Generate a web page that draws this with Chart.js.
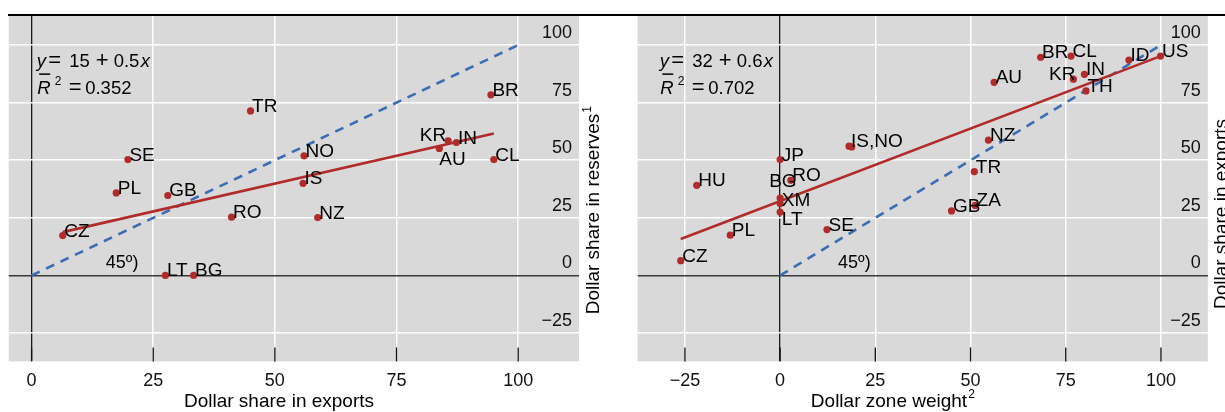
<!DOCTYPE html>
<html><head><meta charset="utf-8">
<script src="https://cdn.jsdelivr.net/npm/chart.js@4.4.1/dist/chart.umd.min.js"></script>
<style>
html,body{margin:0;padding:0;background:#fff;width:1225px;height:412px;overflow:hidden;}
#topline{position:absolute;left:8px;top:14px;width:1217px;height:2px;background:#000;}
.wrap{position:absolute;top:0;height:412px;}
#w1{left:0;width:612px;}
#w2{left:625px;width:600px;}
</style></head><body>
<div id="topline"></div>
<div class="wrap" id="w1"><canvas id="c1"></canvas></div>
<div class="wrap" id="w2"><canvas id="c2"></canvas></div>
<script>
// ---------- DATA ----------
// Left panel: dollar share in exports (x) vs dollar share in reserves (y)
const leftCountries   = ["CZ","PL","SE","GB","LT","BG","RO","TR","NO","IS","NZ","AU","KR","IN","BR","CL"];
const leftExportShare = [6.4,17.4,19.8,28.0,27.5,33.3,41.1,45.0,56.0,55.8,58.8,83.8,85.6,87.3,94.4,95.0];
const leftReserveShare= [17.3,35.8,50.3,34.7,0,0,25.3,71.4,51.9,40.0,25.1,55.1,58.4,57.7,78.4,50.3];
const leftFitX = [6.4, 95.0];
const leftFitY = [18.8, 61.6];
const leftXTicks = [0,25,50,75,100];
const leftEquation = ["15", "0.5", "0.352"];

// Right panel: dollar zone weight (x) vs dollar share in exports (y)
const rightCountries  = ["CZ","PL","HU","LT","XM","BG","JP","RO","SE","IS","NO","GB","ZA","TR","NZ","AU","BR","CL","KR","IN","TH","ID","US"];
const rightZoneWeight = [-26.1,-13.1,-21.9,0,0,0,0,2.8,12.3,18.1,18.8,45.0,51.2,51.0,54.7,56.2,68.4,76.4,77.0,79.9,80.3,91.6,99.9];
const rightExportShare= [6.4,17.5,39.1,27.5,31.2,33.6,50.3,41.3,19.9,56.1,55.8,28.0,30.4,45.1,58.7,83.8,94.7,95.2,85.2,87.3,80.1,93.5,95.2];
const rightFitX = [-26.1, 99.9];
const rightFitY = [15.8, 95.2];
const rightXTicks = [-25,0,25,50,75,100];
const rightEquation = ["32", "0.6", "0.702"];

const yTicks = [-25,0,25,50,75,100];
const diagX = [0,100];
const diagY = [0,100];

// ---------- STYLE ----------
const FONT = "'Liberation Sans', Arial, Helvetica, sans-serif";
const RED = '#b22b2b';
const BLUE = '#3b6db5';
const GRAY = '#d9d9d9';

const fmt = v => (v < 0 ? '\u2212' + Math.abs(v) : String(v));

const leftLabelTweaks  = { KR:{align:'right', dx:-2, dy:0}, AU:{dx:0, dy:16.5} };
const rightLabelTweaks = { KR:{align:'right', dx:2, dy:0.5}, BG:{dx:-11, dy:-11}, LT:{dx:1.7, dy:12.5},
                           XM:{dx:1.7, dy:2.7}, IS:{dx:2, dy:0.7, text:'IS,NO'}, NO:{text:''} };

function makePlugin(cfg){
  return {
    id:'custom',
    beforeDraw(chart){
      const {ctx, chartArea:a} = chart;
      ctx.save(); ctx.fillStyle = GRAY;
      ctx.fillRect(a.left, a.top, a.right-a.left, a.bottom-a.top);
      ctx.restore();
    },
    beforeDatasetsDraw(chart){
      const {ctx, chartArea:a, scales:{x,y}} = chart;
      ctx.save();
      // inner tick marks at bottom
      ctx.strokeStyle = '#111'; ctx.lineWidth = 1.3;
      cfg.xTicks.forEach(v=>{
        const px = x.getPixelForValue(v);
        ctx.beginPath(); ctx.moveTo(px, a.bottom-14); ctx.lineTo(px, a.bottom); ctx.stroke();
      });
      // y tick labels (inside, right)
      ctx.fillStyle = '#111'; ctx.font = '18px ' + FONT;
      ctx.textAlign = 'right'; ctx.textBaseline = 'middle';
      yTicks.forEach(v=>{
        ctx.fillText(fmt(v), a.right-7, y.getPixelForValue(v)-12);
      });
      ctx.restore();
    },
    afterDatasetsDraw(chart){
      const {ctx, chartArea:a, scales:{x,y}} = chart;
      ctx.save();
      // point labels
      ctx.fillStyle = '#000'; ctx.font = '19px ' + FONT; ctx.textBaseline = 'alphabetic';
      cfg.countries.forEach((c,i)=>{
        const t = cfg.tweaks[c] || {};
        const text = t.text !== undefined ? t.text : c;
        if (!text) return;
        const px = x.getPixelForValue(cfg.xs[i]), py = y.getPixelForValue(cfg.ys[i]);
        ctx.textAlign = t.align || 'left';
        ctx.fillText(text, px + (t.dx !== undefined ? t.dx : 1.5), py + (t.dy !== undefined ? t.dy : 1));
      });
      // 45 degree annotation
      ctx.font = '18px ' + FONT; ctx.textAlign = 'center'; ctx.textBaseline = 'middle';
      ctx.fillText('45\u00BA)', x.getPixelForValue(cfg.annot[0]), y.getPixelForValue(cfg.annot[1]));
      // regression equation
      const X0 = x.getPixelForValue(cfg.eqPos[0]);
      const B1 = y.getPixelForValue(cfg.eqPos[1]);
      const B2 = B1 + 27;
      ctx.textAlign = 'left'; ctx.textBaseline = 'alphabetic';
      const it = 'italic 18.5px ' + FONT, rg = '18.5px ' + FONT, op = '22px ' + FONT;
      ctx.font = it; ctx.fillText('y', X0, B1);
      ctx.font = op; ctx.fillText('=', X0+11.5, B1);
      ctx.font = rg; ctx.fillText(cfg.eq[0], X0+32.5, B1);
      ctx.font = op; ctx.fillText('+', X0+59, B1);
      ctx.font = rg; ctx.fillText(cfg.eq[1], X0+77, B1);
      ctx.font = it; ctx.fillText('x', X0+104, B1);
      ctx.fillText('R', X0+0.5, B2);
      ctx.fillRect(X0+2.5, B2-21, 11, 1.5);
      ctx.font = '12px ' + FONT; ctx.fillText('2', X0+18, B2-9);
      ctx.font = op; ctx.fillText('=', X0+32, B2);
      ctx.font = rg; ctx.fillText(cfg.eq[2], X0+48.5, B2);
      ctx.restore();
    },
    afterDraw(chart){
      const {ctx} = chart;
      ctx.save(); ctx.fillStyle = '#000';
      // x title
      ctx.font = '19px ' + FONT; ctx.textBaseline = 'alphabetic';
      const w = ctx.measureText(cfg.xTitle).width;
      let sx = cfg.xTitleCenter - w/2 - (cfg.xSup ? 4 : 0);
      ctx.textAlign = 'left';
      ctx.fillText(cfg.xTitle, sx, 407);
      if (cfg.xSup){ ctx.font = '12px ' + FONT; ctx.fillText(cfg.xSup, sx + w + 1, 398); }
      // y title (rotated)
      ctx.translate(cfg.yTitlePos[0], cfg.yTitlePos[1]);
      ctx.rotate(-Math.PI/2);
      ctx.font = '19px ' + FONT;
      const wy = ctx.measureText(cfg.yTitle).width;
      ctx.fillText(cfg.yTitle, -wy/2, 0);
      if (cfg.ySup){ ctx.font = '12px ' + FONT; ctx.fillText(cfg.ySup, wy/2 + 1, -8); }
      ctx.restore();
    }
  };
}

function makeChart(id, cfg){
  const pts = cfg.xs.map((v,i)=>({x:v, y:cfg.ys[i]}));
  const fit = cfg.fitX.map((v,i)=>({x:v, y:cfg.fitY[i]}));
  const diag = diagX.map((v,i)=>({x:v, y:diagY[i]}));
  return new Chart(document.getElementById(id), {
    type:'scatter',
    data:{ datasets:[
      {label:'Countries', data:pts, backgroundColor:RED, borderWidth:0, pointRadius:3.6, order:0},
      {type:'line', label:'Fit', data:fit, borderColor:RED, borderWidth:2.6, pointRadius:0, fill:false, order:1},
      {type:'line', label:'45 degree', data:diag, borderColor:BLUE, borderWidth:2.6, borderDash:[9,7], pointRadius:0, fill:false, order:2}
    ]},
    options:{
      responsive:true, maintainAspectRatio:false, animation:false, devicePixelRatio:1,
      layout:{ padding: cfg.padding },
      plugins:{ legend:{display:false}, tooltip:{enabled:false} },
      scales:{
        x:{ type:'linear', min:cfg.xMin, max:cfg.xMax, position:'bottom',
            afterBuildTicks: s => { s.ticks = cfg.xTicks.map(v=>({value:v})); },
            grid:{ drawTicks:false, color: c => (c.tick && c.tick.value===0) ? '#1a1a1a' : '#ffffff',
                   lineWidth: c => (c.tick && c.tick.value===0) ? 1.3 : 1.5 },
            border:{display:false},
            ticks:{ display:true, color:'#111', font:{family:FONT, size:18}, padding:9,
                    autoSkip:false, maxRotation:0, callback: v => fmt(v) } },
        y:{ type:'linear', min:-37.3, max:112.6, position:'right',
            afterBuildTicks: s => { s.ticks = yTicks.map(v=>({value:v})); },
            grid:{ drawTicks:false, color: c => (c.tick && c.tick.value===0) ? '#3a3a3a' : '#ffffff',
                   lineWidth: c => (c.tick && c.tick.value===0) ? 1.6 : 1.5 },
            border:{display:false},
            ticks:{ display:false } }
      }
    },
    plugins:[makePlugin(cfg)]
  });
}

makeChart('c1', {
  countries:leftCountries, xs:leftExportShare, ys:leftReserveShare, fitX:leftFitX, fitY:leftFitY,
  xTicks:leftXTicks, xMin:-4.7, xMax:112.5, tweaks:leftLabelTweaks,
  padding:{left:8.7, right:33, top:16, bottom:11},
  annot:[18.6, 5.2], eqPos:[1.05, 90.3], eq:leftEquation,
  xTitle:'Dollar share in exports', xSup:'', xTitleCenter:279,
  yTitle:'Dollar share in reserves', ySup:'1', yTitlePos:[599, 214]
});
makeChart('c2', {
  countries:rightCountries, xs:rightZoneWeight, ys:rightExportShare, fitX:rightFitX, fitY:rightFitY,
  xTicks:rightXTicks, xMin:-37.4, xMax:112.3, tweaks:rightLabelTweaks,
  padding:{left:12.7, right:17.2, top:16, bottom:11},
  annot:[19.5, 5.2], eqPos:[-31.6, 90.3], eq:rightEquation,
  xTitle:'Dollar zone weight', xSup:'2', xTitleCenter:268,
  yTitle:'Dollar share in exports', ySup:'', yTitlePos:[602, 214]
});
</script>
</body></html>
